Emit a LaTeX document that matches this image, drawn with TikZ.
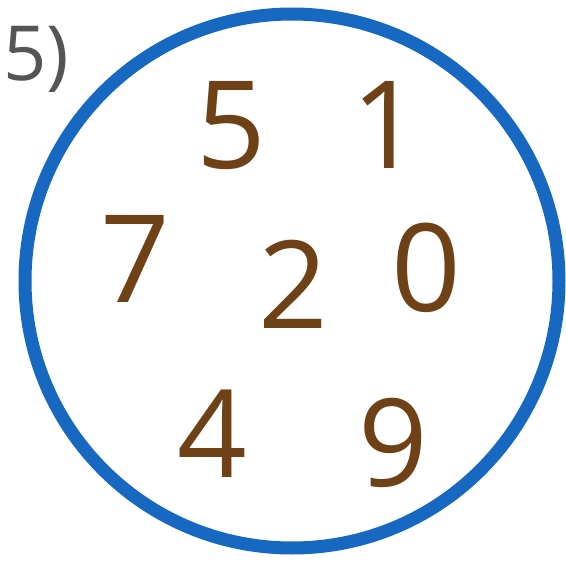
\documentclass[tikz,border=0pt]{standalone}
\usepackage{fontspec}
\setmainfont{Open Sans}
\usepackage{tikz}
\definecolor{ringblue}{RGB}{22,104,192}
\definecolor{digitbrown}{RGB}{110,66,22}
\definecolor{taskgray}{RGB}{85,85,85}

\begin{document}
\begin{tikzpicture}[x=1pt, y=-1pt, every node/.style={inner sep=0pt, anchor=base},
	digit/.style={text=digitbrown, font=\fontsize{122}{122}\selectfont}]
	\useasboundingbox (0,0) rectangle (566,562);
	\node[text=taskgray, font=\fontsize{76}{76}\selectfont] (task) at (36,80) {5)};
	\draw[ringblue, line width=13pt] (292,281) circle[radius=267];
	\node[digit] (d5) at (231,168) {5};
	\node[digit] (d1) at (386,168) {1};
	\node[digit] (d7) at (135,302) {7};
	\node[digit] (d2) at (293,328) {2};
	\node[digit] (d0) at (426,311) {0};
	\node[digit] (d4) at (212,477) {4};
	\node[digit] (d9) at (393,486) {9};
\end{tikzpicture}
\end{document}
